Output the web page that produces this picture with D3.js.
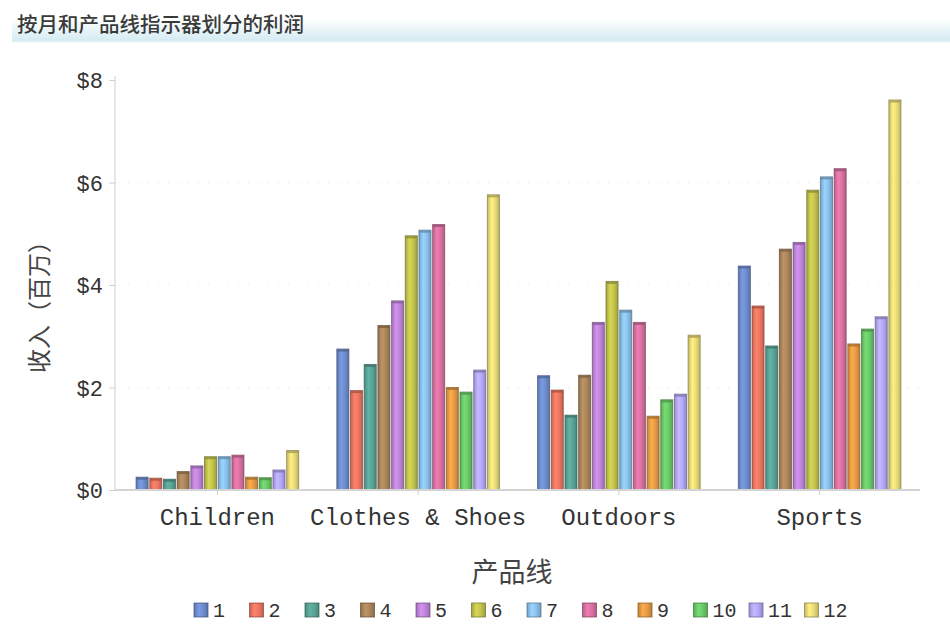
<!DOCTYPE html>
<html><head><meta charset="utf-8">
<script src="https://cdn.jsdelivr.net/npm/d3@7/dist/d3.min.js"></script>
<style>body{margin:0;background:#fff;}svg{display:block;}</style>
</head><body>
<svg id="chart" width="950" height="624"></svg>
<script>
const categories = ["Children", "Clothes & Shoes", "Outdoors", "Sports"];
const months = ["1","2","3","4","5","6","7","8","9","10","11","12"];
const childrenValues = [0.25,0.23,0.21,0.36,0.47,0.65,0.65,0.68,0.25,0.24,0.39,0.77];
const clothesValues  = [2.75,1.94,2.45,3.21,3.69,4.96,5.07,5.18,2.00,1.91,2.34,5.76];
const outdoorsValues = [2.23,1.95,1.46,2.24,3.27,4.07,3.51,3.27,1.44,1.76,1.87,3.02];
const sportsValues   = [4.37,3.59,2.81,4.70,4.83,5.85,6.11,6.27,2.85,3.14,3.38,7.61];
const yTicks = [0,2,4,6,8];
const colors = ["#6f8ed0","#ee7762","#5aa597","#ad875c","#c286dc","#c5c54e","#8cc3ee","#dc72a4","#e89c45","#6ccb69","#b5a9fb","#ebdc78"];
const title = "按月和产品线指示器划分的利润";
const yTitle = "收入（百万）";
const xTitle = "产品线";

const seriesByCat = [childrenValues, clothesValues, outdoorsValues, sportsValues];
const svg = d3.select("#chart");
const defs = svg.append("defs");

// title band
const tg = defs.append("linearGradient").attr("id","tband").attr("x1",0).attr("y1",0).attr("x2",0).attr("y2",1);
tg.append("stop").attr("offset","0%").attr("stop-color","#ffffff");
tg.append("stop").attr("offset","100%").attr("stop-color","#d3ebf2");
svg.append("rect").attr("x",12).attr("y",19).attr("width",938).attr("height",22).attr("fill","url(#tband)");
svg.append("rect").attr("x",12).attr("y",41).attr("width",938).attr("height",1.5).attr("fill","#e6f3f7");
svg.append("text").attr("x",17).attr("y",32).text(title)
  .attr("font-family","'Noto Sans CJK SC'").attr("font-size",20.5).attr("font-weight",500).attr("fill","#3a3a3a");

// bar gradients
colors.forEach((c,i)=>{
  const g = defs.append("linearGradient").attr("id","bg"+i).attr("x1",0).attr("y1",0).attr("x2",1).attr("y2",0);
  const base = d3.color(c);
  g.append("stop").attr("offset","0%").attr("stop-color",base.darker(0.5));
  g.append("stop").attr("offset","35%").attr("stop-color",base.brighter(0.25));
  g.append("stop").attr("offset","65%").attr("stop-color",base);
  g.append("stop").attr("offset","100%").attr("stop-color",base.darker(0.6));
});

const x0 = d3.scaleBand().domain(categories).range([117, 920]).paddingInner(0.19).paddingOuter(0.095);
const x1 = d3.scaleBand().domain(months).range([0, x0.bandwidth()]).paddingInner(0.12);
const y = d3.scaleLinear().domain([0,8]).range([490, 80]);

// grid
svg.append("g").selectAll("line").data(yTicks.filter(d=>d>0)).join("line")
  .attr("x1",118).attr("x2",920).attr("y1",d=>y(d)).attr("y2",d=>y(d))
  .attr("stroke","#f0d8dc").attr("stroke-width",1).attr("stroke-dasharray","1,9");

// y axis
const yAxis = svg.append("g").attr("transform","translate(115,0)")
  .call(d3.axisLeft(y).tickValues(yTicks).tickSize(6).tickPadding(6).tickFormat(d=>"$"+d));
yAxis.select(".domain").attr("stroke","#cfcfcf").attr("d","M0,"+(y(8)-4)+"V"+y(0));
yAxis.selectAll(".tick line").attr("stroke","#cfcfcf");
yAxis.selectAll(".tick text").attr("font-family","'Liberation Mono'").attr("font-size",22).attr("fill","#333").attr("dy","0.35em");

// bars
const groups = svg.append("g").selectAll("g").data(categories).join("g")
  .attr("transform",d=>`translate(${x0(d)},0)`);
groups.selectAll("rect").data((d,ci)=>seriesByCat[ci].map((v,mi)=>({m:months[mi],v,mi})))
  .join("rect")
  .attr("x",d=>x1(d.m)).attr("width",x1.bandwidth())
  .attr("y",d=>y(d.v)).attr("height",d=>y(0)-y(d.v))
  .attr("fill",d=>`url(#bg${d.mi})`)
  .attr("stroke",d=>d3.color(colors[d.mi]).darker(1.6)).attr("stroke-opacity",0.7).attr("stroke-width",1);
groups.selectAll("line.cap").data((d,ci)=>seriesByCat[ci].map((v,mi)=>({m:months[mi],v,mi})))
  .join("line").attr("class","cap")
  .attr("x1",d=>x1(d.m)+0.5).attr("x2",d=>x1(d.m)+x1.bandwidth()-0.5)
  .attr("y1",d=>y(d.v)+1.5).attr("y2",d=>y(d.v)+1.5)
  .attr("stroke",d=>d3.color(colors[d.mi]).darker(1.0)).attr("stroke-width",2).attr("stroke-opacity",0.8);

// x axis
const xAxis = svg.append("g").attr("transform","translate(0,490)")
  .call(d3.axisBottom(x0).tickSize(5).tickPadding(13));
xAxis.select(".domain").attr("stroke","#d4d4d4").attr("stroke-width",2).attr("d","M115,0H920");
xAxis.selectAll(".tick line").attr("stroke","#cfcfcf");
xAxis.selectAll(".tick text").attr("font-family","'Liberation Mono'").attr("font-size",24).attr("fill","#333");

// axis titles
svg.append("text").attr("transform","translate(48,301) rotate(-90)").attr("text-anchor","middle")
  .attr("font-family","'Noto Sans CJK SC'").attr("font-size",24).attr("fill","#444").text(yTitle);
svg.append("text").attr("x",512).attr("y",582).attr("text-anchor","middle")
  .attr("font-family","'Noto Sans CJK SC'").attr("font-size",27).attr("fill","#444").text(xTitle);

// legend
const leg = svg.append("g").selectAll("g").data(months).join("g")
  .attr("transform",(d,i)=>`translate(${194 + i*55.5},603)`);
leg.append("rect").attr("width",14).attr("height",14)
  .attr("fill",(d,i)=>`url(#bg${i})`).attr("stroke",(d,i)=>d3.color(colors[i]).darker(1.6)).attr("stroke-opacity",0.7);
leg.append("text").attr("x",19).attr("y",7).attr("dy","0.35em").text(d=>d)
  .attr("font-family","'Liberation Mono'").attr("font-size",20).attr("fill","#333");
</script>
</body></html>
